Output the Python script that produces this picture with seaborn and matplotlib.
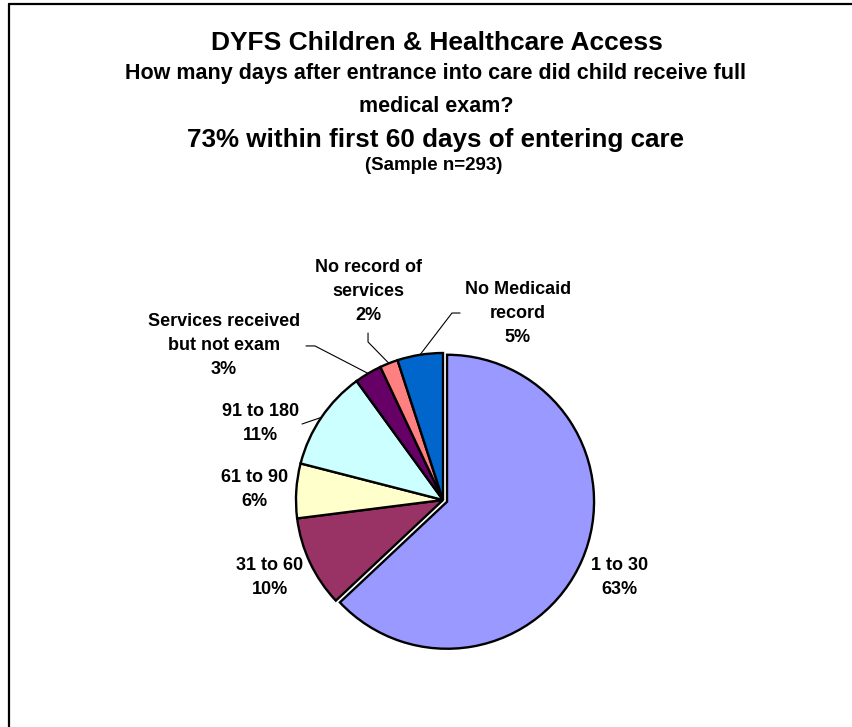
import numpy as np
import matplotlib
matplotlib.use("Agg")
import matplotlib.pyplot as plt
from matplotlib.lines import Line2D
import seaborn as sns

# ---- data ----
categories = ["1 to 30", "31 to 60", "61 to 90", "91 to 180",
              "Services received\nbut not exam", "No record of\nservices",
              "No Medicaid\nrecord"]
percents = [63, 10, 6, 11, 3, 2, 5]
colors = ["#9999FF", "#993366", "#FFFFCC", "#CCFFFF", "#660066", "#FF8080", "#0066CC"]
explode = [0.03, 0, 0, 0, 0, 0, 0]

title = "DYFS Children & Healthcare Access"
subtitle = "How many days after entrance into care did child receive full\nmedical exam?"
headline = "73% within first 60 days of entering care"
sample = "(Sample n=293)"

sns.set_theme(style="white")
plt.rcParams['font.family'] = ['Liberation Sans', 'DejaVu Sans']
plt.rcParams['text.color'] = 'black'
palette = sns.color_palette(colors)

W, H = 852, 727
fig = plt.figure(figsize=(W / 100, H / 100), dpi=100)
fig.patch.set_facecolor("white")

# pie axes: centre at (443, 500) px, radius 147 px
R = 147.0
cx, cy = 443.0, 500.0
lim = 1.6
size = 2 * lim * R
ax = fig.add_axes([(cx - size / 2) / W, (H - cy - size / 2) / H, size / W, size / H])

wedges, _ = ax.pie(percents, colors=palette, explode=explode, startangle=90,
                   counterclock=False, radius=1.0,
                   wedgeprops=dict(edgecolor="black", linewidth=1.7))
ax.set_xlim(-lim, lim)
ax.set_ylim(-lim, lim)
ax.set_aspect("equal")
ax.axis("off")

# label positions (data coords, relative to pie radius) and elbow points
label_pos = [(1.20, -0.53), (-1.18, -0.53), (-1.28, 0.07), (-1.24, 0.52),
             (-1.49, 1.05), (-0.51, 1.42), (0.51, 1.27)]
elbows = [None, None, None, [(-0.959, 0.517)], [(-0.932, 1.048), (-0.871, 1.048)],
          [(-0.51, 1.136), (-0.51, 1.075)], [(0.116, 1.272), (0.061, 1.272)]]

for w, cat, p, (lx, ly), el in zip(wedges, categories, percents, label_pos, elbows):
    ax.text(lx, ly, f"{cat}\n{p}%", ha="center", va="center", fontsize=13,
            fontweight="bold", linespacing=1.55, color="black")
    if el is not None:
        mid = np.deg2rad((w.theta1 + w.theta2) / 2)
        ex, ey = np.cos(mid), np.sin(mid)
        xs = [p_[0] for p_ in el] + [ex]
        ys = [p_[1] for p_ in el] + [ey]
        ax.plot(xs, ys, color="black", linewidth=0.8)

# titles
fig.text(437 / W, 1 - 42.5 / H, title, ha="center", va="center", fontsize=19, fontweight="bold")
fig.text(436 / W, 1 - 90 / H, subtitle, ha="center", va="center", fontsize=15.5,
         fontweight="bold", linespacing=1.72)
fig.text(436 / W, 1 - 140.5 / H, headline, ha="center", va="center", fontsize=18.7, fontweight="bold")
fig.text(434 / W, 1 - 166 / H, sample, ha="center", va="center", fontsize=13.5, fontweight="bold")

# frame (left and top edges visible)
fig.add_artist(Line2D([9 / W, 9 / W], [0, 1 - 4 / H], color="black", linewidth=1.6))
fig.add_artist(Line2D([9 / W, 1], [1 - 4 / H, 1 - 4 / H], color="black", linewidth=1.6))

fig.savefig("out.png", dpi=100, facecolor="white")
